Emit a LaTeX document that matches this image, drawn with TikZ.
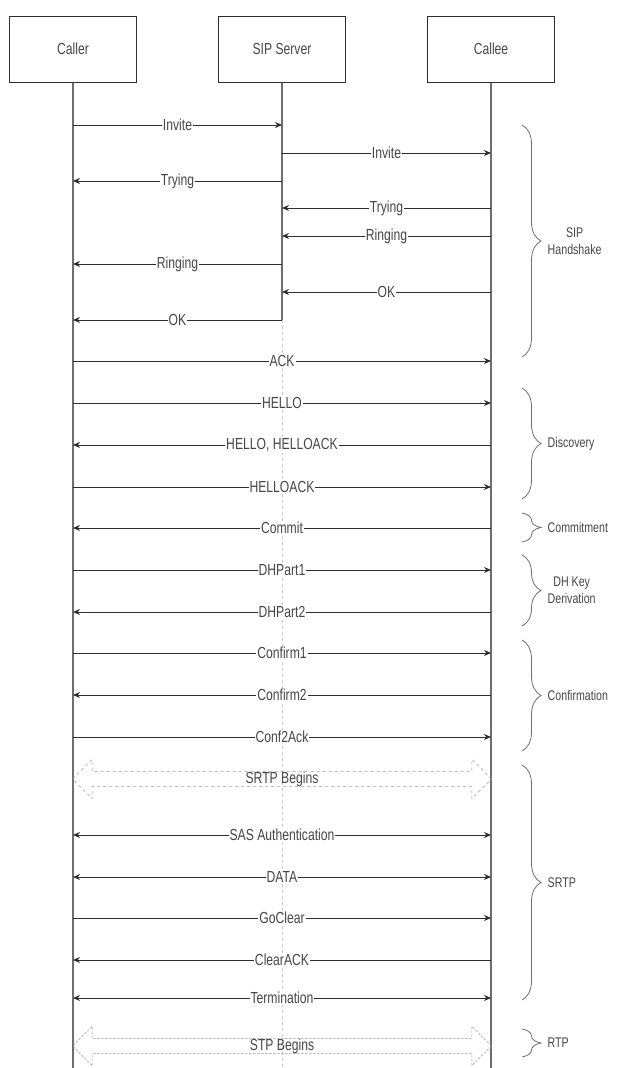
\documentclass[tikz,border=0pt]{standalone}
\usepackage{fontspec}
\newfontfamily\diagfont[FakeStretch=0.76]{Liberation Sans}
\usetikzlibrary{arrows.meta,shapes.arrows,decorations.pathreplacing}
\definecolor{linegray}{RGB}{45,45,45}
\definecolor{textgray}{RGB}{70,70,70}
\definecolor{lifegray}{RGB}{110,110,110}
\definecolor{hintgray}{RGB}{150,150,150}

\begin{document}
\begin{tikzpicture}[
 x=1pt, y=-1pt,
 actor/.style={rectangle, draw=linegray, line width=1pt, minimum width=127pt, minimum height=66pt, font=\diagfont\fontsize{16}{18}\selectfont, text=textgray},
 lifeline/.style={draw=lifegray, line width=1.2pt},
 msg/.style={-{Stealth[length=7pt, width=6pt]}, draw=linegray, line width=1pt},
 twoway/.style={{Stealth[length=7pt, width=6pt]}-{Stealth[length=7pt, width=6pt]}, draw=linegray, line width=1pt},
 lbl/.style={fill=white, inner sep=1pt, font=\diagfont\fontsize{16}{18}\selectfont, text=textgray},
 begins/.style={double arrow, draw=hintgray, dashed, double arrow head extend=12pt, minimum width=38pt, inner xsep=2pt, inner ysep=0pt, font=\diagfont\fontsize{16}{18}\selectfont, text=textgray},
 phase/.style={decorate, decoration={brace, amplitude=19pt}, draw=lifegray, line width=0.8pt},
 phaselabel/.style={font=\diagfont\fontsize{14}{17}\selectfont, text=textgray, align=center}
]
\useasboundingbox (0,0) rectangle (617,1068);

% Actors
\node[actor] (caller) at (73,49) {Caller};
\node[actor] (server) at (282,49) {SIP Server};
\node[actor] (callee) at (491,49) {Callee};

% Lifelines
\coordinate (callerEnd) at (caller |- 0,1068);
\coordinate (serverEnd) at (server |- 0,320);
\coordinate (serverFade) at (server |- 0,1068);
\coordinate (calleeEnd) at (callee |- 0,1068);
\draw[lifeline] (caller) -- (callerEnd);
\draw[lifeline] (server) -- (serverEnd);
\draw[dashed, hintgray!50, line width=0.6pt] (serverEnd) -- (serverFade);
\draw[lifeline] (callee) -- (calleeEnd);

% SIP handshake
\draw[msg] (caller |- 0,125) -- node[lbl] {Invite} (server |- 0,125);
\draw[msg] (server |- 0,153) -- node[lbl] {Invite} (callee |- 0,153);
\draw[msg] (server |- 0,181) -- node[lbl] {Trying} (caller |- 0,181);
\draw[msg] (callee |- 0,208) -- node[lbl] {Trying} (server |- 0,208);
\draw[msg] (callee |- 0,236) -- node[lbl] {Ringing} (server |- 0,236);
\draw[msg] (server |- 0,264) -- node[lbl] {Ringing} (caller |- 0,264);
\draw[msg] (callee |- 0,292) -- node[lbl] {OK} (server |- 0,292);
\draw[msg] (server |- 0,320) -- node[lbl] {OK} (caller |- 0,320);
\draw[msg] (caller |- 0,361) -- node[lbl] {ACK} (callee |- 0,361);

% ZRTP exchange
\draw[msg] (caller |- 0,403) -- node[lbl] {HELLO} (callee |- 0,403);
\draw[msg] (callee |- 0,445) -- node[lbl] {HELLO, HELLOACK} (caller |- 0,445);
\draw[msg] (caller |- 0,487) -- node[lbl] {HELLOACK} (callee |- 0,487);
\draw[msg] (callee |- 0,528) -- node[lbl] {Commit} (caller |- 0,528);
\draw[msg] (caller |- 0,570) -- node[lbl] {DHPart1} (callee |- 0,570);
\draw[msg] (callee |- 0,612) -- node[lbl] {DHPart2} (caller |- 0,612);
\draw[msg] (caller |- 0,653) -- node[lbl] {Confirm1} (callee |- 0,653);
\draw[msg] (callee |- 0,695) -- node[lbl] {Confirm2} (caller |- 0,695);
\draw[msg] (caller |- 0,737) -- node[lbl] {Conf2Ack} (callee |- 0,737);

% Secure media
\node[begins, minimum height=419pt] (srtpgo) at (282,779) {SRTP Begins};
\draw[twoway] (caller |- 0,835) -- node[lbl] {SAS Authentication} (callee |- 0,835);
\draw[twoway] (caller |- 0,877) -- node[lbl] {DATA} (callee |- 0,877);
\draw[msg] (caller |- 0,918) -- node[lbl] {GoClear} (callee |- 0,918);
\draw[msg] (callee |- 0,960) -- node[lbl] {ClearACK} (caller |- 0,960);
\draw[twoway] (caller |- 0,998) -- node[lbl] {Termination} (callee |- 0,998);
\node[begins, minimum height=419pt, dash pattern=on 2.5pt off 1.5pt] (rtpgo) at (282,1046) {STP Begins};

% Braces
\draw[phase] (522,125) -- (522,357) node[midway, right=22pt, phaselabel] {SIP\\Handshake};
\draw[phase] (522,388) -- (522,499) node[midway, right=22pt, phaselabel] {Discovery};
\draw[phase] (522,513) -- (522,542) node[midway, right=22pt, phaselabel] {Commitment};
\draw[phase] (522,555) -- (522,626) node[midway, right=22pt, phaselabel] {DH Key\\Derivation};
\draw[phase] (522,640) -- (522,751) node[midway, right=22pt, phaselabel] {Confirmation};
\draw[phase] (522,765) -- (522,1000) node[midway, right=22pt, phaselabel] {SRTP};
\draw[phase] (522,1029) -- (522,1057) node[midway, right=22pt, phaselabel] {RTP};

\end{tikzpicture}
\end{document}
